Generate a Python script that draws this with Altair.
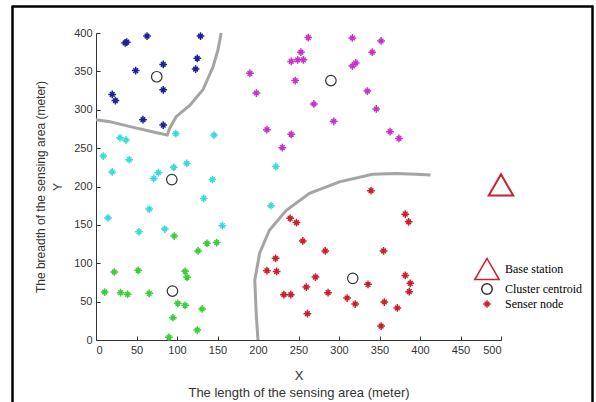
import altair as alt
import pandas as pd

# ---------------- data ----------------
blue_x = [36, 38, 63, 129, 49, 83, 125, 123, 83, 20, 24, 58, 83]
blue_y = [387, 388, 396, 396, 351, 359, 367, 353, 326, 320, 312, 287, 280]

cyan_x = [98.5, 145.7, 29.6, 37, 9, 41, 20, 112, 96, 77, 71.4, 143.7, 133, 65.7, 14.8, 156, 53, 85, 222, 216]
cyan_y = [269, 267, 263.5, 260.6, 239.7, 235, 219, 230, 225, 218, 210.5, 209, 184.5, 170.6, 159, 149, 141, 144.6, 226, 175]

green_x = [96.5, 137, 149, 126, 22.5, 52, 110, 112.4, 10.7, 30.4, 39, 65.7, 101, 110, 131, 95, 125, 90]
green_y = [135.5, 126, 127, 116, 88.6, 90.8, 89.5, 81.7, 62.5, 61.7, 59.5, 60.8, 47.8, 45.2, 40.4, 29, 13, 3.5]

magenta_x = [262, 316.5, 352, 253, 341, 241, 249, 256, 320.6, 316.5, 190, 246, 198, 335, 269, 346, 293.5, 363, 374, 211, 241, 230]
magenta_y = [394, 393.5, 389.6, 375, 375, 363, 365, 365, 361, 357, 347.4, 338, 321.8, 324.4, 307.5, 301, 285, 271.4, 262.7, 274, 268, 250.6]

red_x = [339.5, 381.8, 386, 239.7, 247.5, 255.3, 283, 355, 221.7, 211, 223, 271, 381.8, 388, 386.7, 335.8, 259.6, 232, 240.5, 286.5, 310, 320, 356, 372, 261, 352]
red_y = [194.6, 164, 154, 158.5, 153, 129, 116, 116, 106.4, 90.3, 89.4, 82, 84.2, 73.8, 63, 72.5, 69, 59, 59, 61.7, 54.7, 46.9, 49.5, 41.7, 34.3, 18.2]

centroid_x = [75, 93.6, 94.4, 290, 317]
centroid_y = [343, 209, 63.8, 338, 80.3]

base_x = [500]
base_y = [202]

boundary1_x = [0, 17, 46, 75, 88, 91, 99, 116, 132, 144.5, 150.6, 154.5]
boundary1_y = [287, 284.5, 277, 270, 267, 276, 291, 306, 326, 356, 378, 400]

boundary2_x = [200, 198, 196, 202, 214, 235, 263.5, 300.5, 341.5, 370, 395, 413]
boundary2_y = [0, 30, 78, 113, 143, 169, 191, 206, 216, 217, 216, 215]

kinds = ["Base station", "Cluster centroid", "Senser node"]
cluster_names = ["c1", "c2", "c3", "c4", "c5"]
cluster_colors = ["#1f1f9c", "#3dd9d9", "#3ccc3c", "#c832c8", "#c8202c"]

x_ticks = list(range(0, 501, 50))
y_ticks = list(range(0, 401, 50))

# ---------------- tables ----------------
sens_rows = []
for cname, xs_, ys_ in zip(cluster_names,
                           [blue_x, cyan_x, green_x, magenta_x, red_x],
                           [blue_y, cyan_y, green_y, magenta_y, red_y]):
    for a, b in zip(xs_, ys_):
        sens_rows.append({"x": a, "y": b, "cluster": cname, "kind": kinds[2]})
sensors = pd.DataFrame(sens_rows)
cents = pd.DataFrame({"x": centroid_x, "y": centroid_y, "kind": kinds[1]})
base = pd.DataFrame({"x": base_x, "y": base_y, "kind": kinds[0]})
bnd_rows = []
for bid, xs_, ys_ in [("b1", boundary1_x, boundary1_y), ("b2", boundary2_x, boundary2_y)]:
    for i, (a, b) in enumerate(zip(xs_, ys_)):
        bnd_rows.append({"x": a, "y": b, "bid": bid, "o": i})
bnd = pd.DataFrame(bnd_rows)

W, H = 405, 307
STAR = "M-1,0L1,0M0,-1L0,1M-0.6,-0.6L0.6,0.6M-0.6,0.6L0.6,-0.6"

xs = alt.Scale(domain=[0, 500], nice=False, zero=False)
ys = alt.Scale(domain=[0, 400], nice=False, zero=False)

shape_enc = alt.Shape(
    "kind:N",
    scale=alt.Scale(domain=kinds, range=["triangle-up", "circle", STAR]),
    legend=alt.Legend(
        title="", orient="none", legendX=378, legendY=223,
        labelFont="Liberation Serif", labelFontSize=12, labelColor="#000",
        symbolFillColor="transparent", symbolStrokeWidth=1.5,
        symbolStrokeColor=alt.ExprRef("datum.value === 'Cluster centroid' ? '#333333' : '#c8202c'"),
        rowPadding=-4, labelOffset=5,
    ),
)
size_enc = alt.Size("kind:N", scale=alt.Scale(type="ordinal", domain=kinds, range=[600, 110, 60]))

ax_bottom = alt.Axis(values=x_ticks, ticks=False, grid=False, domainColor="#333",
                     labelFont="Liberation Sans", labelFontSize=11, labelColor="#333",
                     labelPadding=4, title=["X", "The length of the sensing area (meter)"],
                     titleFont="Liberation Sans", titleFontSize=13, titleFontWeight="normal",
                     titleColor="#333", titlePadding=14, titleLineHeight=17)
ax_left = alt.Axis(values=y_ticks, ticks=False, grid=False, domainColor="#333",
                   labelFont="Liberation Sans", labelFontSize=11, labelColor="#333",
                   labelPadding=4, title=["The breadth of the sensing area (meter)", "Y"],
                   titleFont="Liberation Sans", titleFontSize=12, titleFontWeight="normal",
                   titleColor="#333", titlePadding=9, titleLineHeight=17)
ax_top_in = alt.Axis(orient="top", offset=-H, values=x_ticks, labels=False, domain=False,
                     grid=False, tickSize=4, tickColor="#333", title="")
ax_right_in = alt.Axis(orient="right", offset=-W, values=y_ticks, labels=False, domain=False,
                       grid=False, tickSize=4, tickColor="#333", title="")

lines = alt.Chart(bnd).mark_line(color="#a4a4a4", strokeWidth=3).encode(
    x=alt.X("x:Q", scale=xs, axis=ax_bottom),
    y=alt.Y("y:Q", scale=ys, axis=ax_left),
    detail="bid:N", order="o:Q",
)

sens = alt.Chart(sensors).mark_point(filled=False, strokeWidth=1.5, opacity=1).encode(
    x=alt.X("x:Q", scale=xs, axis=ax_top_in),
    y=alt.Y("y:Q", scale=ys, axis=ax_right_in),
    color=alt.Color("cluster:N", scale=alt.Scale(domain=cluster_names, range=cluster_colors), legend=None),
    shape=shape_enc, size=size_enc,
)

cent = alt.Chart(cents).mark_point(filled=False, strokeWidth=1.2, color="#333333", opacity=1).encode(
    x=alt.X("x:Q", scale=xs, axis=None),
    y=alt.Y("y:Q", scale=ys, axis=None),
    shape=shape_enc, size=size_enc,
)

bs = alt.Chart(base).mark_point(filled=False, strokeWidth=2, color="#c8202c", opacity=1).encode(
    x=alt.X("x:Q", scale=xs, axis=None),
    y=alt.Y("y:Q", scale=ys, axis=None),
    shape=shape_enc, size=size_enc,
)

frame_top = alt.Chart(base).mark_rule(color="#000", strokeWidth=2.5).encode(
    x=alt.value(-83.5), x2=alt.value(497), y=alt.value(-26.5))
frame_left = alt.Chart(base).mark_rule(color="#000", strokeWidth=2.5).encode(
    x=alt.value(-83.5), y=alt.value(-27.5), y2=alt.value(380))
frame_right = alt.Chart(base).mark_rule(color="#000", strokeWidth=2.5).encode(
    x=alt.value(496.5), y=alt.value(-27.5), y2=alt.value(380))

chart = alt.layer(lines, sens, cent, bs, frame_top, frame_left, frame_right).resolve_axis(
    x="independent", y="independent"
).properties(
    width=W, height=H,
    padding={"left": 96, "top": 33, "right": 95, "bottom": 62},
    autosize=alt.AutoSizeParams(type="none"),
    background="white",
).configure_view(stroke=None)

chart.save("out.html", embed_options={"renderer": "svg", "actions": False})
